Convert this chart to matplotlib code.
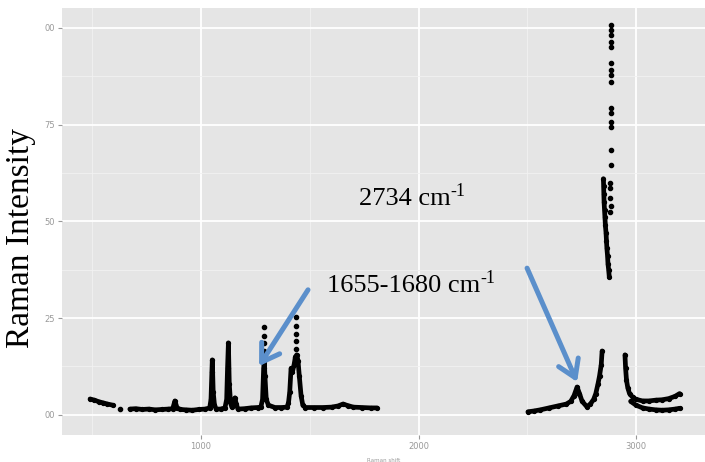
import matplotlib
matplotlib.use("Agg")
import matplotlib.pyplot as plt
import numpy as np

# spectrum segments (wavenumber, intensity)
seg_a_x = [490, 510, 530, 550, 570, 595]
seg_a_y = [4.1, 3.8, 3.4, 3.1, 2.8, 2.5]
stray_x = [627]
stray_y = [1.6]

seg_b_x = [673, 700, 730, 760, 790, 820, 850, 870, 880, 890, 905, 930, 960, 990,
           1020, 1040, 1046, 1050, 1052, 1056, 1062, 1070, 1090, 1110, 1118, 1122,
           1126, 1130, 1136, 1142, 1150, 1156, 1162, 1170, 1200, 1230, 1260, 1275,
           1283, 1288, 1291, 1294, 1300, 1310, 1340, 1370, 1395, 1402, 1408, 1414,
           1420, 1428, 1434, 1440, 1446, 1452, 1460, 1468, 1480, 1520, 1560, 1600,
           1630, 1653, 1675, 1700, 1740, 1780, 1809]
seg_b_y = [1.5, 1.6, 1.4, 1.5, 1.3, 1.4, 1.5, 1.6, 3.6, 1.8, 1.4, 1.3, 1.2, 1.4,
           1.5, 1.8, 4.0, 11.0, 14.2, 6.0, 2.5, 1.5, 1.5, 1.8, 4.0, 12.0,
           18.6, 8.0, 3.0, 2.0, 2.5, 4.4, 2.8, 1.5, 1.6, 1.8, 1.9, 2.0,
           4.0, 12.0, 14.0, 10.0, 4.0, 2.5, 1.9, 1.9, 2.0, 3.0, 6.0, 12.0,
           11.0, 13.0, 15.0, 15.5, 14.0, 10.0, 5.0, 2.5, 1.9, 1.9, 1.9, 2.0,
           2.3, 2.8, 2.4, 2.0, 1.9, 1.8, 1.8]

seg_c_x = [2503, 2530, 2560, 2600, 2640, 2680, 2700, 2715, 2729, 2740, 2752, 2774,
           2790, 2805, 2815, 2825, 2832, 2840, 2844]
seg_c_y = [0.8, 1.0, 1.3, 1.8, 2.3, 2.8, 3.5, 5.0, 7.2, 5.5, 3.5, 2.1,
           2.8, 4.0, 5.5, 8.0, 10.0, 13.0, 16.5]

column_x = [2850, 2851, 2852, 2853, 2855, 2857, 2859, 2862, 2864, 2866, 2869, 2871,
            2874, 2877]
column_y = [61.0, 59.0, 57.0, 55.0, 53.0, 51.0, 49.0, 47.0, 45.0, 43.0, 41.0, 39.0,
            37.5, 35.6]

dots_x = [1291, 1291, 1290, 1291, 1437, 1437, 1438, 1437, 1438,
          2881, 2881, 2882, 2883, 2882,
          2884, 2884, 2885, 2884, 2885, 2884, 2885, 2885, 2886, 2884, 2885, 2886,
          2885, 2885, 2885]
dots_y = [16.5, 18.5, 20.5, 22.7, 17.0, 19.0, 21.0, 23.0, 25.3,
          60.0, 58.5, 56.0, 54.0, 52.5,
          100.7, 99.4, 98.1, 96.3, 95.0, 90.9, 89.2, 87.9, 86.1, 79.2, 78.0, 75.6,
          74.3, 68.4, 64.5]

seg_d_x = [2949, 2952, 2956, 2962, 2970, 2985, 3000, 3030, 3060, 3090, 3120, 3150,
           3180, 3200]
seg_d_y = [15.5, 12.0, 9.0, 7.0, 5.5, 4.5, 4.0, 3.6, 3.6, 3.8, 3.9, 4.2, 4.8, 5.5]
seg_e_x = [2975, 3000, 3030, 3060, 3090, 3120, 3150, 3180, 3200]
seg_e_y = [3.5, 2.5, 1.8, 1.5, 1.3, 1.2, 1.3, 1.5, 1.7]

yticks = [0, 25, 50, 75, 100]
ytick_labels = ["00", "25", "50", "75", "00"]
xticks = [1000, 2000, 3000]

fig = plt.figure(figsize=(7.05, 4.62), dpi=100)
ax = fig.add_axes([62 / 705, 27 / 462, 643 / 705, 427 / 462])
ax.set_facecolor("#e5e5e5")
for s in ax.spines.values():
    s.set_visible(False)

ax.set_xlim(361, 3317)
ax.set_ylim(-5.2, 105.1)
ax.set_xticks(xticks)
ax.set_xticks([500, 1500, 2500], minor=True)
ax.set_yticks(yticks)
ax.set_yticklabels(ytick_labels)
ax.set_yticks([12.5, 37.5, 62.5, 87.5], minor=True)
ax.grid(which="major", color="white", lw=1.3)
ax.grid(which="minor", color="#f2f2f2", lw=0.6)
ax.set_axisbelow(True)
ax.tick_params(which="major", length=3, color="#999999", labelcolor="#999999",
               labelsize=6, pad=2)
ax.tick_params(which="minor", length=0)
ax.set_xlabel("Raman shift", fontsize=4, color="#999999", labelpad=5)

kw = dict(color="black", lw=3.4, marker="o", ms=2.8, solid_capstyle="round")
for xs, ys in ((seg_a_x, seg_a_y), (seg_b_x, seg_b_y), (seg_c_x, seg_c_y),
               (column_x, column_y), (seg_d_x, seg_d_y), (seg_e_x, seg_e_y)):
    ax.plot(xs, ys, **kw)
ax.plot(stray_x + dots_x, stray_y + dots_y, "o", color="black", ms=3.0)

serif = "Liberation Serif"
blue = "#5b8fcb"
for x0, y0, label in ((1726, 54.2, "2734 cm"), (1579, 31.8, "1655-1680 cm")):
    t = ax.text(x0, y0, label, family=serif, fontsize=19, va="baseline")
    ax.annotate("-1", xy=(1.0, 0.62), xycoords=t, family=serif, fontsize=13,
                ha="left", va="baseline")

for tail, head in (((1492, 32.3), (1267, 12.6)), ((2499, 37.9), (2729, 8.5))):
    ax.annotate("", xy=head, xytext=tail,
                arrowprops=dict(arrowstyle="->,head_length=0.55,head_width=0.35",
                                color=blue, lw=3.6, mutation_scale=22,
                                shrinkA=0, shrinkB=0))

fig.text(21 / 705, 1 - 238 / 462, "Raman Intensity", family=serif, fontsize=24,
         rotation=90, ha="center", va="center")

fig.savefig("out.png", dpi=100)
